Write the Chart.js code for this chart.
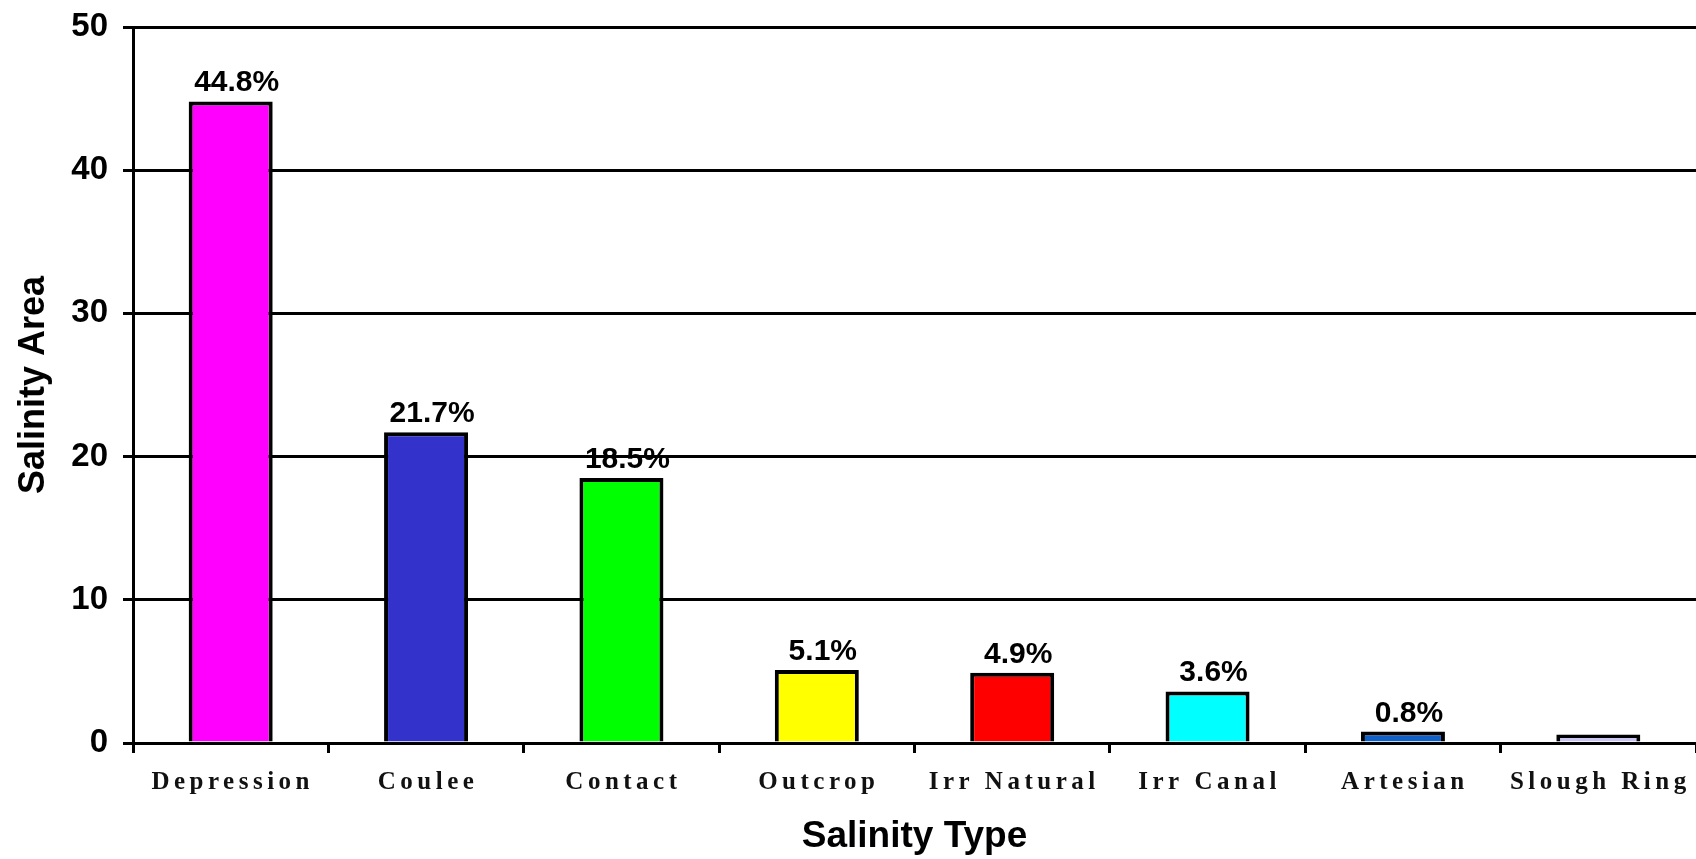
<!DOCTYPE html>
<html>
<head>
<meta charset="utf-8">
<script src="https://cdn.jsdelivr.net/npm/chart.js@4/dist/chart.umd.min.js"></script>
<style>
  html, body { margin: 0; padding: 0; background: #fff; }
  #chart { display: block; }
</style>
</head>
<body>
<canvas id="chart" width="1696" height="859"></canvas>
<script>
// Salinity area by type
const categories = ['Depression', 'Coulee', 'Contact', 'Outcrop', 'Irr Natural', 'Irr Canal', 'Artesian', 'Slough Ring'];
const values = [44.8, 21.7, 18.5, 5.1, 4.9, 3.6, 0.8, 0.6];
const valueLabels = ['44.8%', '21.7%', '18.5%', '5.1%', '4.9%', '3.6%', '0.8%', ''];
const barColors = ['#ff00ff', '#3333cc', '#00ff00', '#ffff00', '#ff0000', '#00ffff', '#1060c8', '#c8c4f4'];
const yTicks = [0, 10, 20, 30, 40, 50];

// value labels above bars
const valueLabelPlugin = {
  id: 'valueLabels',
  afterDatasetsDraw(chart) {
    const ctx = chart.ctx;
    const meta = chart.getDatasetMeta(0);
    ctx.save();
    ctx.font = 'bold 30px "Liberation Sans", Arial, sans-serif';
    ctx.fillStyle = '#000';
    ctx.textAlign = 'center';
    ctx.textBaseline = 'alphabetic';
    meta.data.forEach((bar, i) => {
      if (!valueLabels[i]) return;
      ctx.fillText(valueLabels[i], bar.x + 6, bar.y - 10);
    });
    ctx.restore();
  },
};

// category labels: spaced-out serif text like the original
const categoryLabelPlugin = {
  id: 'categoryLabels',
  afterDraw(chart) {
    const ctx = chart.ctx;
    const xScale = chart.scales.x;
    ctx.save();
    ctx.font = 'bold 25px "Liberation Serif", "Times New Roman", serif';
    ctx.letterSpacing = '4.5px';
    ctx.fillStyle = '#111';
    ctx.textAlign = 'center';
    ctx.textBaseline = 'middle';
    categories.forEach((c, i) => {
      ctx.fillText(c, xScale.getPixelForValue(i) + 2, xScale.top + 40);
    });
    ctx.restore();
  },
};

new Chart(document.getElementById('chart'), {
  type: 'bar',
  data: {
    labels: categories,
    datasets: [
      {
        data: values,
        backgroundColor: barColors,
        borderColor: '#000',
        borderWidth: 4,
        borderSkipped: 'bottom',
        categoryPercentage: 1,
        barPercentage: 0.43,
      },
    ],
  },
  options: {
    responsive: false,
    devicePixelRatio: 1,
    animation: false,
    layout: { padding: { top: 27, right: 0, left: 0, bottom: 0 } },
    plugins: { legend: { display: false }, tooltip: { enabled: false } },
    scales: {
      x: {
        offset: true,
        grid: { display: true, drawOnChartArea: false, color: '#000', lineWidth: 3, tickLength: 10, offset: true },
        border: { display: true, color: '#000', width: 3 },
        ticks: { color: 'transparent', autoSkip: false, maxRotation: 0 },
        title: {
          display: true,
          text: 'Salinity Type',
          color: '#000',
          font: { family: '"Liberation Sans", Arial, sans-serif', size: 37, weight: 'bold' },
          padding: { top: 0, bottom: 0 },
        },
        afterFit(scale) { scale.height = 116; },
      },
      y: {
        min: 0,
        max: 50,
        afterBuildTicks(scale) { scale.ticks = yTicks.map((v) => ({ value: v })); },
        grid: { color: '#000', lineWidth: 3, tickLength: 10 },
        border: { display: true, color: '#000', width: 3 },
        ticks: {
          color: '#000',
          padding: 15,
          font: { family: '"Liberation Sans", Arial, sans-serif', size: 33, weight: 'bold' },
        },
        title: {
          display: true,
          text: 'Salinity Area',
          color: '#000',
          font: { family: '"Liberation Sans", Arial, sans-serif', size: 36, weight: 'bold' },
          padding: { top: 12, bottom: 0 },
        },
        afterFit(scale) {
          scale.width = 133;
          scale.paddingTop = 0;
          scale.paddingBottom = 0;
        },
      },
    },
  },
  plugins: [valueLabelPlugin, categoryLabelPlugin],
});
</script>
</body>
</html>
